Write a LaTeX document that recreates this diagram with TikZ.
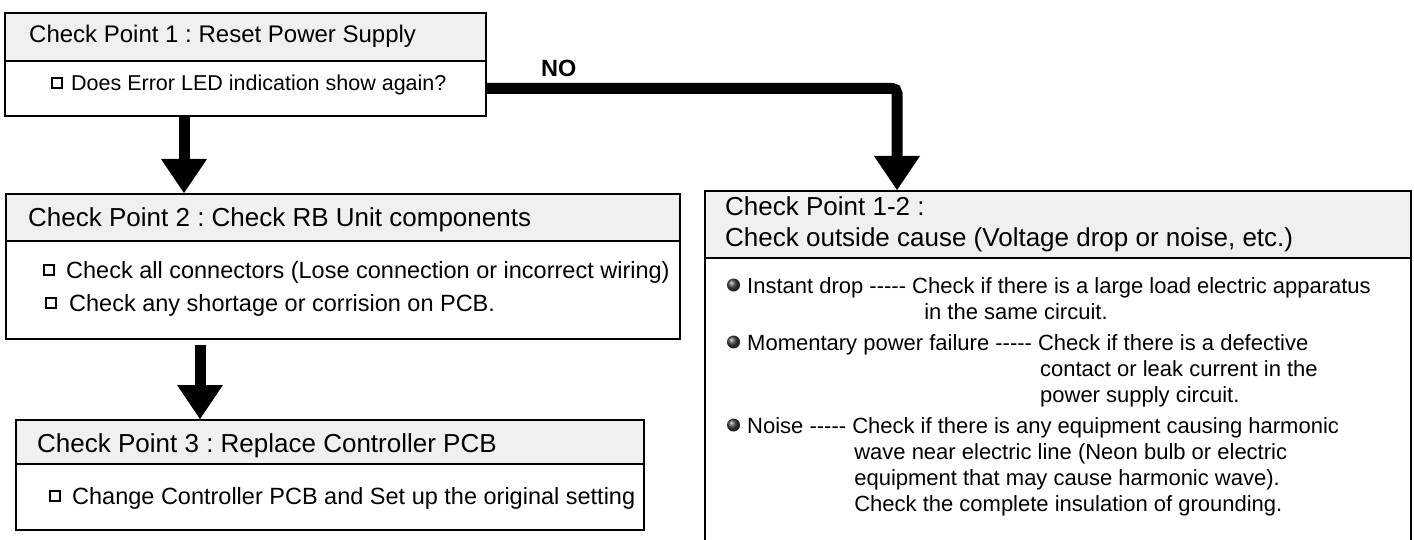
\documentclass[tikz,border=0pt]{standalone}
\usepackage{fontspec}
\setmainfont{Liberation Sans}
\usetikzlibrary{arrows.meta}
\frenchspacing
\newcommand\fontHdA{\fontsize{24}{28}\selectfont}
\newcommand\fontHdB{\fontsize{26}{30}\selectfont}
\newcommand\fontBdA{\fontsize{21.5}{26}\selectfont}
\newcommand\fontBdB{\fontsize{23.5}{28}\selectfont}
\newcommand\fontBdR{\fontsize{22}{26}\selectfont}
\newcommand\dashrun{\mbox{-}\mbox{-}\mbox{-}\mbox{-}\mbox{-}}
\tikzset{
  frame/.style={draw=black, line width=1.6pt, anchor=north west, inner sep=0pt},
  hdrbox/.style={frame, fill=black!6},
  bodybox/.style={frame, fill=white},
  txt/.style={anchor=base west, inner sep=0pt, text=black},
  chk/.style={draw=black, line width=2.2pt, minimum size=10.5pt, inner sep=0pt, fill=white},
  dot/.style={circle, inner sep=0pt, minimum size=13pt, shading=ball, ball color=black!75},
  bigarrow/.style={line width=11pt, -{Triangle[width=46pt,length=34pt,line width=0pt]}},
}
\begin{document}
\begin{tikzpicture}[x=1pt,y=-1pt]
\useasboundingbox (0,0) rectangle (1414,540);
\fill[white] (0,0) rectangle (1414,540);

% ---- Box 1
\node[bodybox, minimum width=481pt, minimum height=55pt] (b1) at (4,60) {};
\node[hdrbox, minimum width=481pt, minimum height=48pt] (h1) at (4,12) {};
\node[txt, font=\fontHdA] (h1t) at (29,42.5) {Check Point 1 : Reset Power Supply};
\node[chk] (q1) at (57,83) {};
\node[txt, font=\fontBdA] (b1t) at (71,91) {Does Error LED indication show again?};

% ---- Box 2
\node[bodybox, minimum width=674pt, minimum height=98pt] (b2) at (5,240) {};
\node[hdrbox, minimum width=674pt, minimum height=47pt] (h2) at (5,193) {};
\node[txt, font=\fontHdB] (h2t) at (28,227) {Check Point 2 : Check RB Unit components};
\node[chk] (q2a) at (49,270) {};
\node[txt, font=\fontBdB] (b2ta) at (66,278.5) {Check all connectors (Lose connection or incorrect wiring)};
\node[chk] (q2b) at (51,303) {};
\node[txt, font=\fontBdB] (b2tb) at (69,311.5) {Check any shortage or corrision on PCB.};

% ---- Box 3
\node[bodybox, minimum width=628pt, minimum height=66pt] (b3) at (15,463) {};
\node[hdrbox, minimum width=628pt, minimum height=44pt] (h3) at (15,419) {};
\node[txt, font=\fontHdB] (h3t) at (37,452) {Check Point 3 : Replace Controller PCB};
\node[chk] (q3) at (55,496) {};
\node[txt, font=\fontBdB] (b3t) at (72,504.5) {Change Controller PCB and Set up the original setting};

% ---- Right box
\node[bodybox, minimum width=706pt, minimum height=320pt] (rb) at (704,257) {};
\node[hdrbox, minimum width=706pt, minimum height=67pt] (rh) at (704,190) {};
\node[txt, font=\fontHdB] (rht1) at (725,216) {Check Point 1-2 :};
\node[txt, font=\fontHdB] (rht2) at (725,247) {Check outside cause (Voltage drop or noise, etc.)};

\node[dot] (d1) at (733.5,285) {};
\node[txt, font=\fontBdR] (r1a) at (747,293) {Instant drop \dashrun{} Check if there is a large load electric apparatus};
\node[txt, font=\fontBdR] (r1b) at (747,319) {\hphantom{Instant drop \dashrun{} }\hspace{12pt}in the same circuit.};

\node[dot] (d2) at (733.5,342) {};
\node[txt, font=\fontBdR] (r2a) at (747,350) {Momentary power failure \dashrun{} Check if there is a defective};
\node[txt, font=\fontBdR] (r2b) at (747,376) {\hphantom{Momentary power failure \dashrun{} }\hspace{2pt}contact or leak current in the};
\node[txt, font=\fontBdR] (r2c) at (747,402) {\hphantom{Momentary power failure \dashrun{} }\hspace{2pt}power supply circuit.};

\node[dot] (d3) at (733.5,425) {};
\node[txt, font=\fontBdR] (r3a) at (747,433) {Noise \dashrun{} Check if there is any equipment causing harmonic};
\node[txt, font=\fontBdR] (r3b) at (747,459) {\hphantom{Noise \dashrun{} }\hspace{2pt}wave near electric line (Neon bulb or electric};
\node[txt, font=\fontBdR] (r3c) at (747,485) {\hphantom{Noise \dashrun{} }\hspace{2pt}equipment that may cause harmonic wave).};
\node[txt, font=\fontBdR] (r3d) at (747,511) {\hphantom{Noise \dashrun{} }\hspace{2pt}Check the complete insulation of grounding.};

% ---- Connectors
\coordinate (a1s) at ([xshift=180pt]b1.south west);
\draw[bigarrow] (a1s) -- (a1s |- h2.north);

\coordinate (a2s) at ([xshift=195pt,yshift=-5pt]b2.south west);
\draw[bigarrow] (a2s) -- (a2s |- h3.north);

\coordinate (c12in) at ([xshift=193pt]rh.north west);
\draw[bigarrow, rounded corners=5pt] (b1.east) -| (c12in);
\node[txt, font=\fontsize{23.5}{27}\selectfont\bfseries] (no) at (541,77) {NO};
\end{tikzpicture}
\end{document}
